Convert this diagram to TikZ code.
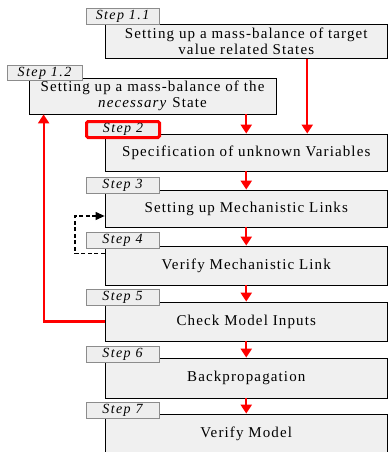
\documentclass[tikz,border=0pt]{standalone}
\usepackage{fontspec}
\setmainfont{Liberation Serif}
\usepackage{tikz}
\usetikzlibrary{arrows.meta, positioning, calc}
\definecolor{boxfill}{HTML}{F0F0F0}
\definecolor{tagfill}{HTML}{EEEEEE}
\definecolor{tagline}{HTML}{8C8C8C}
\definecolor{flowred}{HTML}{FF0000}
\newcommand{\boxfont}{\fontsize{15}{15.8}\selectfont\addfontfeature{LetterSpace=7.5}}
\newcommand{\tagfont}{\fontsize{14}{15}\selectfont\itshape\addfontfeature{LetterSpace=10}}

\begin{document}
\begin{tikzpicture}[x=1pt, y=-1pt,
    stepbox/.style={draw=black, fill=boxfill, line width=0.8pt, inner sep=0pt,
                    minimum width=282.5pt, align=center, font=\boxfont},
    steptag/.style={draw=tagline, fill=tagfill, line width=0.8pt, inner sep=0pt,
                    minimum width=73pt, minimum height=16pt, font=\tagfont},
    flow/.style={color=flowred, line width=2.2pt,
                 -{Triangle[width=11pt,length=9pt]}},
    loopback/.style={color=black, line width=1.1pt, dash pattern=on 4pt off 2.5pt,
                     -{Triangle[width=8pt,length=9pt]}}]
  \clip (0,0) rectangle (388,452);
  \fill[white] (0,0) rectangle (388,452);
  % Step 1.1 and 1.2
  \node[stepbox, minimum height=34.7pt] (b11) at (246.25,41.3)
        {Setting up a mass-balance of target\\value related States};
  \node[stepbox, minimum width=247pt, minimum height=36pt] (b12) at (152.5,96)
        {Setting up a mass-balance of the\\\textit{necessary} State};
  % Steps 2 to 7
  \node[stepbox, minimum height=37pt] (b2) at (246.25,152.5)
        {Specification of unknown Variables};
  \node[stepbox, minimum height=37pt] (b3) at (246.25,208.5)
        {Setting up Mechanistic Links};
  \node[stepbox, minimum height=39pt] (b4) at (246.25,265.5)
        {Verify Mechanistic Link};
  \node[stepbox, minimum height=39pt] (b5) at (246.25,321.5)
        {Check Model Inputs};
  \node[stepbox, minimum height=40pt] (b6) at (246.25,378)
        {Backpropagation};
  \node[stepbox, minimum height=40pt] (b7) at (246.25,434)
        {Verify Model};
  % Step tags
  \node[steptag] (t11) at (122.5,16.5) {Step 1.1};
  \node[steptag, minimum width=75pt, minimum height=15pt] (t12) at (44.5,73) {Step 1.2};
  \node[steptag, draw=flowred, line width=3pt, rounded corners=1.5pt] (t2) at (123,129.5) {Step 2};
  \node[steptag] (t3) at (122.5,185.5) {Step 3};
  \node[steptag] (t4) at (122.5,240.5) {Step 4};
  \node[steptag] (t5) at (122.5,297) {Step 5};
  \node[steptag] (t6) at (122.5,354) {Step 6};
  \node[steptag] (t7) at (122.5,410) {Step 7};
  % Arrows
  \draw[flow] ([xshift=61pt]b11.south) -- ([xshift=61pt]b2.north);
  \draw[flow] (b2.north |- b12.south) -- (b2.north);
  \draw[flow] (b2) -- (b3);
  \draw[flow] (b3) -- (b4);
  \draw[flow] (b4) -- (b5);
  \draw[flow] (b5) -- (b6);
  \draw[flow] (b6) -- (b7);
  \coordinate (back) at ([xshift=15pt]b12.south west);
  \coordinate (corner) at (back |- b5.west);
  \draw[flow] (b5.west) -- (corner) -- (back);
  \coordinate (bend) at (75,0);
  \draw[loopback] ([yshift=-8pt]b4.north west) -| ([yshift=-7.5pt]bend |- b3.west)
        -- ([yshift=-7.5pt]b3.west);
\end{tikzpicture}
\end{document}
